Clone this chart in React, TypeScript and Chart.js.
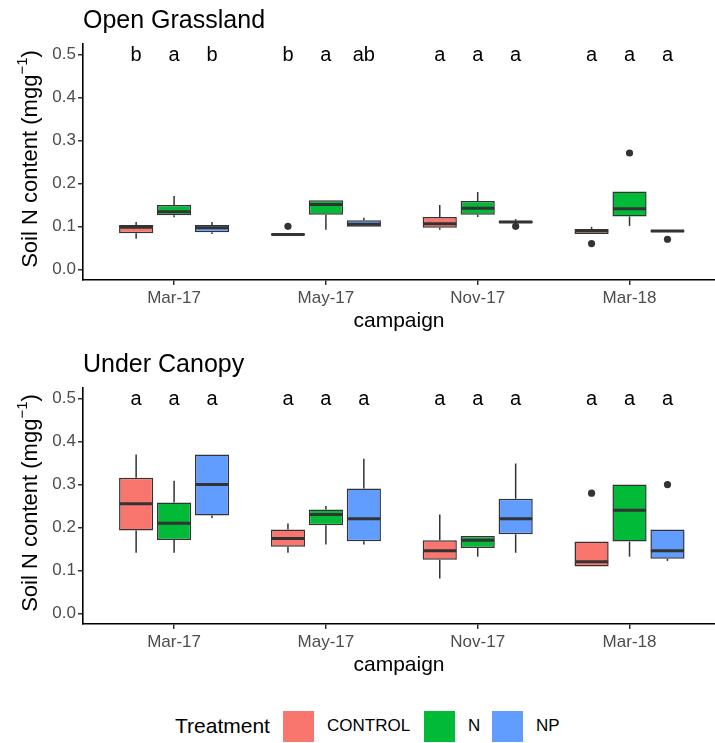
import React, { useEffect, useRef } from "react";
import { Chart, registerables } from "chart.js";

Chart.register(...registerables);

const FONT = "'Liberation Sans', Arial, sans-serif";
Chart.defaults.font.family = FONT;

const campaigns = ["Mar-17", "May-17", "Nov-17", "Mar-18"];
const treatments = ["CONTROL", "N", "NP"];
const fillColors = ["#F8766D", "#00BA38", "#619CFF"];
const yTicks = [0, 0.1, 0.2, 0.3, 0.4, 0.5];

// ---------- Open Grassland (rows: CONTROL, N, NP; columns: campaigns) ----------
const grassLow = [
  [0.071, 0.079, 0.092, 0.082],
  [0.121, 0.092, 0.122, 0.101],
  [0.082, 0.099, 0.108, 0.086],
];
const grassQ1 = [
  [0.084, 0.079, 0.097, 0.082],
  [0.126, 0.127, 0.127, 0.123],
  [0.086, 0.099, 0.108, 0.086],
];
const grassMedian = [
  [0.098, 0.081, 0.106, 0.090],
  [0.134, 0.151, 0.142, 0.141],
  [0.097, 0.105, 0.110, 0.089],
];
const grassQ3 = [
  [0.103, 0.083, 0.122, 0.094],
  [0.150, 0.161, 0.159, 0.181],
  [0.103, 0.114, 0.113, 0.091],
];
const grassHigh = [
  [0.110, 0.083, 0.150, 0.099],
  [0.171, 0.161, 0.180, 0.181],
  [0.110, 0.120, 0.117, 0.091],
];
const grassOutliers = [
  [[], [0.1], [], [0.06]],
  [[], [], [], [0.271]],
  [[], [], [0.1], [0.07]],
];
const grassLetters = [
  ["b", "b", "a", "a"],
  ["a", "a", "a", "a"],
  ["b", "ab", "a", "a"],
];

// ---------- Under Canopy ----------
const canopyLow = [
  [0.141, 0.141, 0.081, 0.109],
  [0.141, 0.160, 0.132, 0.132],
  [0.222, 0.160, 0.141, 0.122],
];
const canopyQ1 = [
  [0.193, 0.155, 0.125, 0.109],
  [0.171, 0.205, 0.152, 0.167],
  [0.228, 0.168, 0.184, 0.127],
];
const canopyMedian = [
  [0.255, 0.174, 0.146, 0.120],
  [0.210, 0.230, 0.170, 0.240],
  [0.300, 0.220, 0.220, 0.146],
];
const canopyQ3 = [
  [0.316, 0.195, 0.170, 0.167],
  [0.258, 0.242, 0.180, 0.300],
  [0.370, 0.291, 0.267, 0.195],
];
const canopyHigh = [
  [0.370, 0.209, 0.230, 0.167],
  [0.309, 0.250, 0.180, 0.300],
  [0.370, 0.360, 0.349, 0.195],
];
const canopyOutliers = [
  [[], [], [], [0.28]],
  [[], [], [], []],
  [[], [], [], [0.3]],
];
const canopyLetters = [
  ["a", "a", "a", "a"],
  ["a", "a", "a", "a"],
  ["a", "a", "a", "a"],
];

type Panel = {
  title: string;
  low: number[][];
  q1: number[][];
  median: number[][];
  q3: number[][];
  high: number[][];
  outliers: number[][][];
  letters: string[][];
};

const grassPanel: Panel = {
  title: "Open Grassland",
  low: grassLow,
  q1: grassQ1,
  median: grassMedian,
  q3: grassQ3,
  high: grassHigh,
  outliers: grassOutliers,
  letters: grassLetters,
};

const canopyPanel: Panel = {
  title: "Under Canopy",
  low: canopyLow,
  q1: canopyQ1,
  median: canopyMedian,
  q3: canopyQ3,
  high: canopyHigh,
  outliers: canopyOutliers,
  letters: canopyLetters,
};

const INK = "#333333";

function boxPlugin(p: Panel) {
  return {
    id: "boxExtras",
    beforeDatasetsDraw(chart: any) {
      const ctx = chart.ctx;
      const y = chart.scales.y;
      ctx.save();
      ctx.strokeStyle = INK;
      ctx.lineWidth = 1.5;
      treatments.forEach((_, i) => {
        const meta = chart.getDatasetMeta(i);
        meta.data.forEach((el: any, j: number) => {
          ctx.beginPath();
          ctx.moveTo(el.x, y.getPixelForValue(p.high[i][j]));
          ctx.lineTo(el.x, y.getPixelForValue(p.q3[i][j]));
          ctx.moveTo(el.x, y.getPixelForValue(p.q1[i][j]));
          ctx.lineTo(el.x, y.getPixelForValue(p.low[i][j]));
          ctx.stroke();
        });
      });
      ctx.restore();
    },
    afterDatasetsDraw(chart: any) {
      const ctx = chart.ctx;
      const y = chart.scales.y;
      ctx.save();
      treatments.forEach((_, i) => {
        const meta = chart.getDatasetMeta(i);
        meta.data.forEach((el: any, j: number) => {
          const half = el.width / 2;
          ctx.strokeStyle = INK;
          ctx.lineWidth = 3;
          ctx.beginPath();
          const my = y.getPixelForValue(p.median[i][j]);
          ctx.moveTo(el.x - half + 0.5, my);
          ctx.lineTo(el.x + half - 0.5, my);
          ctx.stroke();
          ctx.fillStyle = INK;
          p.outliers[i][j].forEach((v) => {
            ctx.beginPath();
            ctx.arc(el.x, y.getPixelForValue(v), 3.6, 0, Math.PI * 2);
            ctx.fill();
          });
          ctx.fillStyle = "#000000";
          ctx.font = `20px ${FONT}`;
          ctx.textAlign = "center";
          ctx.textBaseline = "middle";
          ctx.fillText(p.letters[i][j], el.x, y.getPixelForValue(0.5) + 1);
        });
      });
      ctx.restore();
    },
  };
}

const yTitlePlugin = {
  id: "yTitle",
  afterDraw(chart: any) {
    const ctx = chart.ctx;
    const { top, bottom } = chart.chartArea;
    const cy = (top + bottom) / 2 - 3;
    const bx = 37;
    const main = "Soil N content (mgg";
    const sup = "\u22121";
    const close = ")";
    ctx.save();
    ctx.translate(bx, cy);
    ctx.rotate(-Math.PI / 2);
    ctx.textAlign = "left";
    ctx.textBaseline = "alphabetic";
    ctx.fillStyle = "#000000";
    ctx.font = `22px ${FONT}`;
    const w1 = ctx.measureText(main).width;
    const w3 = ctx.measureText(close).width;
    ctx.font = `15px ${FONT}`;
    const w2 = ctx.measureText(sup).width;
    let x0 = -(w1 + w2 + w3) / 2;
    ctx.font = `22px ${FONT}`;
    ctx.fillText(main, x0, 0);
    x0 += w1;
    ctx.font = `15px ${FONT}`;
    ctx.fillText(sup, x0, -10);
    x0 += w2;
    ctx.font = `22px ${FONT}`;
    ctx.fillText(close, x0, 0);
    ctx.restore();
  },
};

function buildConfig(p: Panel): any {
  const datasets = treatments.map((t, i) => ({
    label: t,
    data: campaigns.map((_, j) => ({ x: j + 1, y: [p.q1[i][j], p.q3[i][j]] })),
    backgroundColor: fillColors[i],
    borderColor: INK,
    borderWidth: 1.5,
    borderSkipped: false,
    categoryPercentage: 0.75,
    barPercentage: 0.9,
  }));
  return {
    type: "bar",
    data: { datasets },
    plugins: [boxPlugin(p), yTitlePlugin],
    options: {
      animation: false,
      responsive: false,
      maintainAspectRatio: false,
      devicePixelRatio: 1,
      layout: { padding: 0 },
      plugins: {
        legend: { display: false },
        tooltip: { enabled: false },
        title: {
          display: true,
          text: p.title,
          align: "start",
          fullSize: false,
          color: "#000000",
          font: { size: 25, weight: "normal", family: FONT },
          padding: { top: 6, bottom: 8 },
        },
      },
      scales: {
        x: {
          type: "linear",
          offset: false,
          min: 0.4,
          max: 4.563,
          afterBuildTicks: (axis: any) => {
            axis.ticks = campaigns.map((_, j) => ({ value: j + 1 }));
          },
          afterFit: (scale: any) => {
            scale.height = 64;
          },
          ticks: {
            autoSkip: false,
            maxRotation: 0,
            padding: 3,
            color: "#4D4D4D",
            font: { size: 17 },
            callback: (v: number) => campaigns[Math.round(v) - 1] ?? "",
          },
          grid: {
            display: true,
            offset: false,
            drawOnChartArea: false,
            drawTicks: true,
            tickLength: 5,
            color: INK,
            lineWidth: 1.5,
          },
          border: { display: true, color: "#000000", width: 1.6 },
          title: {
            display: true,
            text: "campaign",
            color: "#000000",
            font: { size: 21 },
            padding: { top: 0, bottom: 10 },
          },
        },
        y: {
          type: "linear",
          min: -0.025,
          max: 0.525,
          afterBuildTicks: (axis: any) => {
            axis.ticks = yTicks.map((v) => ({ value: v }));
          },
          afterFit: (scale: any) => {
            scale.width = 83;
          },
          ticks: {
            padding: 2,
            color: "#4D4D4D",
            font: { size: 17 },
            callback: (v: number) => v.toFixed(1),
          },
          grid: {
            display: true,
            drawOnChartArea: false,
            drawTicks: true,
            tickLength: 5,
            color: INK,
            lineWidth: 1.5,
          },
          border: { display: true, color: "#000000", width: 1.6 },
        },
      },
    },
  };
}

export default function App() {
  const topRef = useRef<HTMLCanvasElement>(null);
  const botRef = useRef<HTMLCanvasElement>(null);

  useEffect(() => {
    const c1 = new Chart(topRef.current as HTMLCanvasElement, buildConfig(grassPanel));
    const c2 = new Chart(botRef.current as HTMLCanvasElement, buildConfig(canopyPanel));
    return () => {
      c1.destroy();
      c2.destroy();
    };
  }, []);

  const legendKeys = [
    { left: 283, labelLeft: 327 },
    { left: 424, labelLeft: 468 },
    { left: 492, labelLeft: 536 },
  ];

  return (
    <div
      style={{
        position: "absolute",
        left: 0,
        top: 0,
        width: 715,
        height: 743,
        background: "#ffffff",
        fontFamily: FONT,
        overflow: "hidden",
      }}
    >
      <canvas
        ref={topRef}
        width={715}
        height={344}
        style={{ position: "absolute", left: 0, top: 0, width: 715, height: 344 }}
      />
      <canvas
        ref={botRef}
        width={715}
        height={344}
        style={{ position: "absolute", left: 0, top: 344, width: 715, height: 344 }}
      />
      <div
        style={{
          position: "absolute",
          left: 175,
          top: 726 - 12.6,
          fontSize: 21,
          lineHeight: "25.2px",
          color: "#000",
          whiteSpace: "nowrap",
        }}
      >
        Treatment
      </div>
      {legendKeys.map((k, i) => (
        <React.Fragment key={treatments[i]}>
          <div
            style={{
              position: "absolute",
              left: k.left,
              top: 711,
              width: 31,
              height: 31,
              background: fillColors[i],
            }}
          />
          <div
            style={{
              position: "absolute",
              left: k.labelLeft,
              top: 726 - 10.2,
              fontSize: 17,
              lineHeight: "20.4px",
              color: "#000",
              whiteSpace: "nowrap",
            }}
          >
            {treatments[i]}
          </div>
        </React.Fragment>
      ))}
    </div>
  );
}
